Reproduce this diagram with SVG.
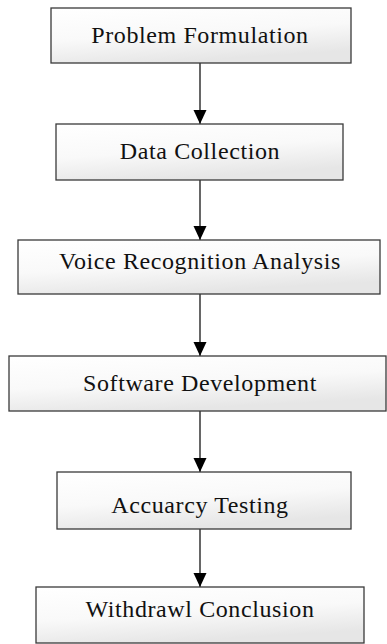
<svg xmlns="http://www.w3.org/2000/svg" width="387" height="644" viewBox="0 0 387 644">
  <defs>
    <linearGradient id="fill" x1="0" y1="0" x2="0.35" y2="1">
      <stop offset="0" stop-color="#ffffff"/>
      <stop offset="0.55" stop-color="#f9f9f9"/>
      <stop offset="1" stop-color="#e6e6e6"/>
    </linearGradient>
    <marker id="arrow" markerUnits="userSpaceOnUse" markerWidth="14" markerHeight="15" refX="14" refY="6.5" orient="auto">
      <path d="M0,0 L14,6.5 L0,13 Z" fill="#000"/>
    </marker>
  </defs>
  <style>
    .box { fill: url(#fill); stroke: #3a3a3a; stroke-width: 1.3; }
    .lbl { font-family: "Liberation Serif", "Times New Roman", serif; font-size: 24px; letter-spacing: 0.6px; fill: #111; text-anchor: middle; }
    .conn { stroke: #000; stroke-width: 1.2; fill: none; marker-end: url(#arrow); }
  </style>
  <rect width="387" height="644" fill="#fff"/>
  <g id="connectors">
    <line class="conn" x1="200" y1="63" x2="200" y2="124"/>
    <line class="conn" x1="200" y1="180" x2="200" y2="240"/>
    <line class="conn" x1="200" y1="294" x2="200" y2="356"/>
    <line class="conn" x1="200" y1="411" x2="200" y2="472"/>
    <line class="conn" x1="200" y1="529" x2="200" y2="587"/>
  </g>
  <g id="n1">
    <rect class="box" x="51" y="8" width="300" height="55"/>
    <text class="lbl" x="200" y="43">Problem Formulation</text>
  </g>
  <g id="n2">
    <rect class="box" x="56" y="124" width="287" height="56"/>
    <text class="lbl" x="200" y="159">Data Collection</text>
  </g>
  <g id="n3">
    <rect class="box" x="18" y="240" width="362" height="54"/>
    <text class="lbl" x="200" y="269">Voice Recognition Analysis</text>
  </g>
  <g id="n4">
    <rect class="box" x="9" y="356" width="377" height="55"/>
    <text class="lbl" x="200" y="391">Software Development</text>
  </g>
  <g id="n5">
    <rect class="box" x="57" y="472" width="294" height="57"/>
    <text class="lbl" x="200" y="513">Accuarcy Testing</text>
  </g>
  <g id="n6">
    <rect class="box" x="36" y="587" width="328" height="56"/>
    <text class="lbl" x="200" y="617">Withdrawl Conclusion</text>
  </g>
</svg>
